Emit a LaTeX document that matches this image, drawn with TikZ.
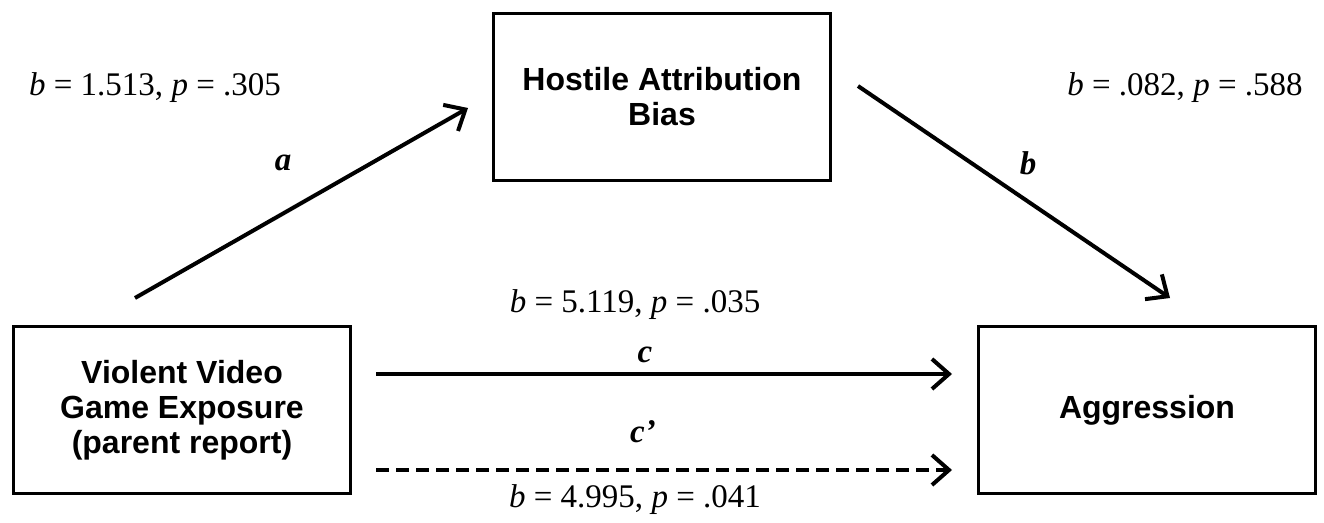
\documentclass[tikz,border=0pt]{standalone}
\usepackage{fontspec}
\setmainfont{Liberation Serif}
\newfontfamily\boxfont{Liberation Sans}
\usetikzlibrary{arrows.meta}
\tikzset{
  varbox/.style={draw, line width=3.4pt, minimum width=337pt, minimum height=167pt, align=center, inner sep=0pt,
    font=\boxfont\bfseries\fontsize{32}{35}\selectfont},
  path/.style={line width=4pt, -{Straight Barb[length=17pt, width=30pt, line width=4pt]}},
  stat/.style={font=\fontsize{33}{36}\selectfont},
  plab/.style={font=\bfseries\itshape\fontsize{33}{36}\selectfont}
}
\begin{document}
\begin{tikzpicture}[x=1pt,y=-1pt]
\useasboundingbox (0,0) rectangle (1324,522);
\node[varbox] (hab) at (662,97) {Hostile Attribution\\Bias};
\node[varbox] (vvg) at (182,410) {Violent Video\\Game Exposure\\(parent report)};
\node[varbox] (agg) at (1147,410) {Aggression};
\coordinate (a0) at (135,298);
\coordinate (a1) at (468,108);
\coordinate (b0) at (858,86);
\coordinate (b1) at (1170,298);
\coordinate (c0) at (376,374);
\coordinate (c1) at (952,374);
\coordinate (d0) at (376,470);
\coordinate (d1) at (952,470);
\draw[path] (a0) -- (a1);
\draw[path] (b0) -- (b1);
\draw[path] (c0) -- (c1);
\draw[path, dash pattern=on 13pt off 7pt] (d0) -- (d1);
\node[stat] (sa) at (155,88) {\textit{b} = 1.513, \textit{p} = .305};
\node[plab] (la) at (283,163) {a};
\node[stat] (sb) at (1185,88) {\textit{b} = .082, \textit{p} = .588};
\node[plab] (lb) at (1028,163) {b};
\node[stat] (sc) at (635,305) {\textit{b} = 5.119, \textit{p} = .035};
\node[plab] (lc) at (645,355) {c};
\node[plab] (ld) at (643,432) {c’};
\node[stat] (sd) at (635,500) {\textit{b} = 4.995, \textit{p} = .041};
\end{tikzpicture}
\end{document}
